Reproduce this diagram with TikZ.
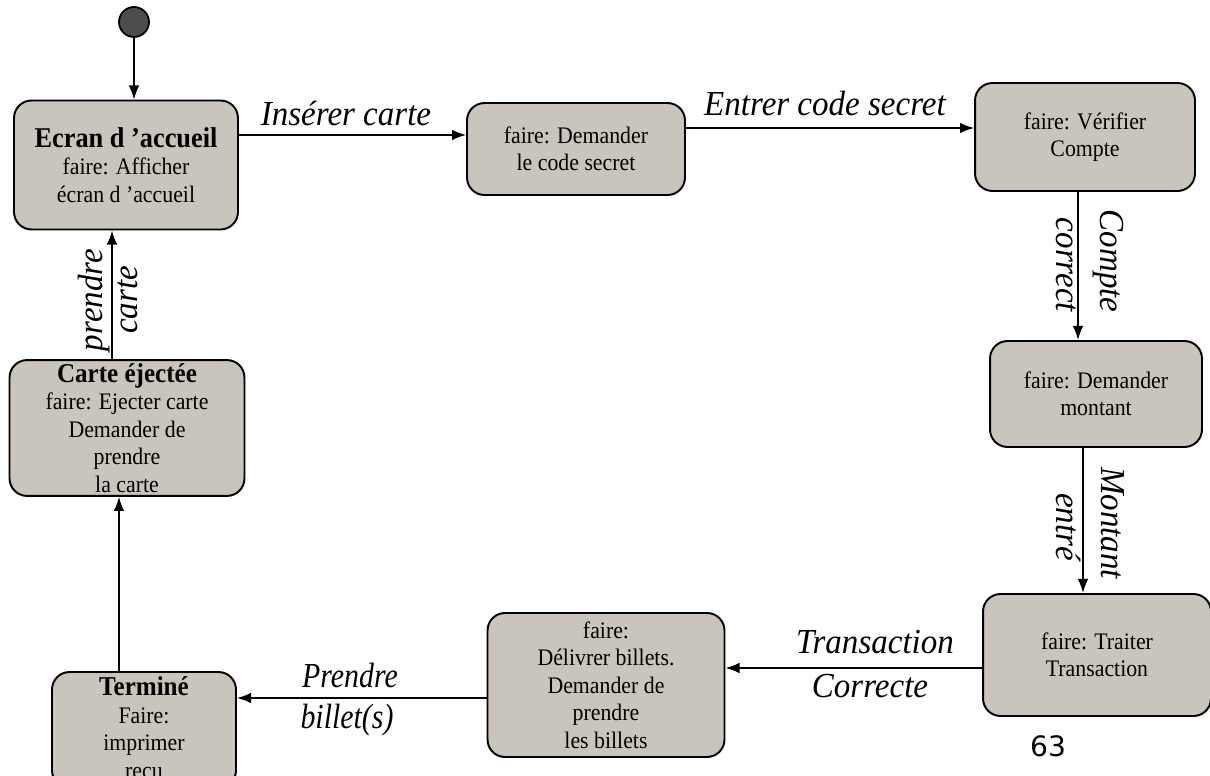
\documentclass[tikz,border=0pt]{standalone}
\usepackage{fontspec}
\setmainfont{Liberation Serif}
\newfontfamily\bodyfont[FakeStretch=0.92]{Liberation Serif}
\newfontfamily\lblfont[FakeStretch=0.94]{Liberation Serif}
\newfontfamily\lblfontn[FakeStretch=0.85]{Liberation Serif}
\newfontfamily\numfont{DejaVu Sans}
\usetikzlibrary{arrows.meta}
\definecolor{boxfill}{HTML}{C9C5BD}
\begin{document}
\begin{tikzpicture}[x=0.02cm,y=-0.02cm,
  state/.style={draw=black, line width=1.1pt, fill=boxfill, rounded corners=0.35cm,
    align=center, font=\bodyfont\fontsize{13.5}{15.6}\selectfont, inner sep=2pt},
  trans/.style={draw=black, line width=0.9pt, -{Latex[length=8pt,width=6pt]}},
  lbl/.style={font=\lblfont\itshape\fontsize{20}{24}\selectfont, inner sep=0pt},
  lbln/.style={font=\lblfontn\itshape\fontsize{20}{24}\selectfont, inner sep=0pt}]
\useasboundingbox[fill=white] (0,0) rectangle (1210,776);

\node[circle, draw=black, line width=1pt, fill=black!70, minimum size=0.6cm, inner sep=0pt] (init) at (134,22) {};

\node[state, minimum width=4.48cm, minimum height=2.58cm] (ecran) at (126,165)
  {{\bfseries\fontsize{16.3}{18}\selectfont Ecran d ’accueil}\\faire: Afficher\\écran d ’accueil};
\node[state, minimum width=4.36cm, minimum height=1.84cm] (code) at (576,149)
  {faire: Demander\\le code secret};
\node[state, minimum width=4.4cm, minimum height=2.16cm] (verif) at (1085,137)
  {faire: Vérifier\\Compte};
\node[state, minimum width=4.24cm, minimum height=2.12cm] (montant) at (1096,394)
  {faire: Demander\\montant};
\node[state, minimum width=4.56cm, minimum height=2.44cm] (traiter) at (1097,655)
  {faire: Traiter\\Transaction};
\node[state, minimum width=4.74cm, minimum height=2.88cm] (delivrer) at (606,685)
  {faire:\\Délivrer billets.\\Demander de\\prendre\\les billets};
\node[state, minimum width=3.68cm, minimum height=2.32cm] (termine) at (144,730)
  {{\bfseries\fontsize{15.5}{18}\selectfont Terminé}\\Faire:\\imprimer\\reçu};
\node[state, minimum width=4.7cm, minimum height=2.56cm] (carte) at (127,428)
  {{\bfseries\fontsize{15.5}{18}\selectfont Carte éjectée}\\faire: Ejecter carte\\Demander de\\prendre\\la carte};

% transitions
\draw[trans] (init) -- (init |- ecran.north);
\coordinate (p1) at ([yshift=0.6cm]ecran.east);
\draw[trans] (p1) -- (p1 -| code.west);
\coordinate (p2) at ([yshift=0.42cm]code.east);
\draw[trans] (p2) -- (p2 -| verif.west);
\coordinate (p3) at ([xshift=-0.14cm]verif.south);
\draw[trans] (p3) -- (p3 |- montant.north);
\coordinate (p4) at ([xshift=-0.26cm]montant.south);
\draw[trans] (p4) -- (p4 |- traiter.north);
\coordinate (p5) at ([yshift=-0.26cm]traiter.west);
\draw[trans] (p5) -- (p5 -| delivrer.east);
\coordinate (p6) at ([yshift=-0.26cm]delivrer.west);
\draw[trans] (p6) -- (p6 -| termine.east);
\coordinate (p7) at ([xshift=-0.5cm]termine.north);
\draw[trans] (p7) -- (p7 |- carte.south);
\coordinate (p8) at ([xshift=-0.3cm]carte.north);
\draw[trans] (p8) -- (p8 |- ecran.south);

% labels
\node[lbl] (l1) at (346,113) {Insérer carte};
\node[lbl] (l2) at (825,103) {Entrer code secret};
\node[lbl, rotate=-90] (l3a) at (1108,261) {Compte};
\node[lbl, rotate=-90] (l3b) at (1066,265) {correct};
\node[lbl, rotate=-90] (l4a) at (1113,523) {Montant};
\node[lbl, rotate=-90] (l4b) at (1069,527) {entré};
\node[lbl] (l5a) at (875,642) {Transaction};
\node[lbl] (l5b) at (870,686) {Correcte};
\node[lbln] (l6a) at (350,675) {Prendre};
\node[lbln] (l6b) at (347,720) {billet(s)};
\node[lbl, rotate=90] (l7a) at (94,300) {prendre};
\node[lbl, rotate=90] (l7b) at (128,300) {carte};

\node[font=\numfont\fontsize{16}{18}\selectfont, inner sep=0pt] (pg) at (1048,746) {63};
\end{tikzpicture}
\end{document}
